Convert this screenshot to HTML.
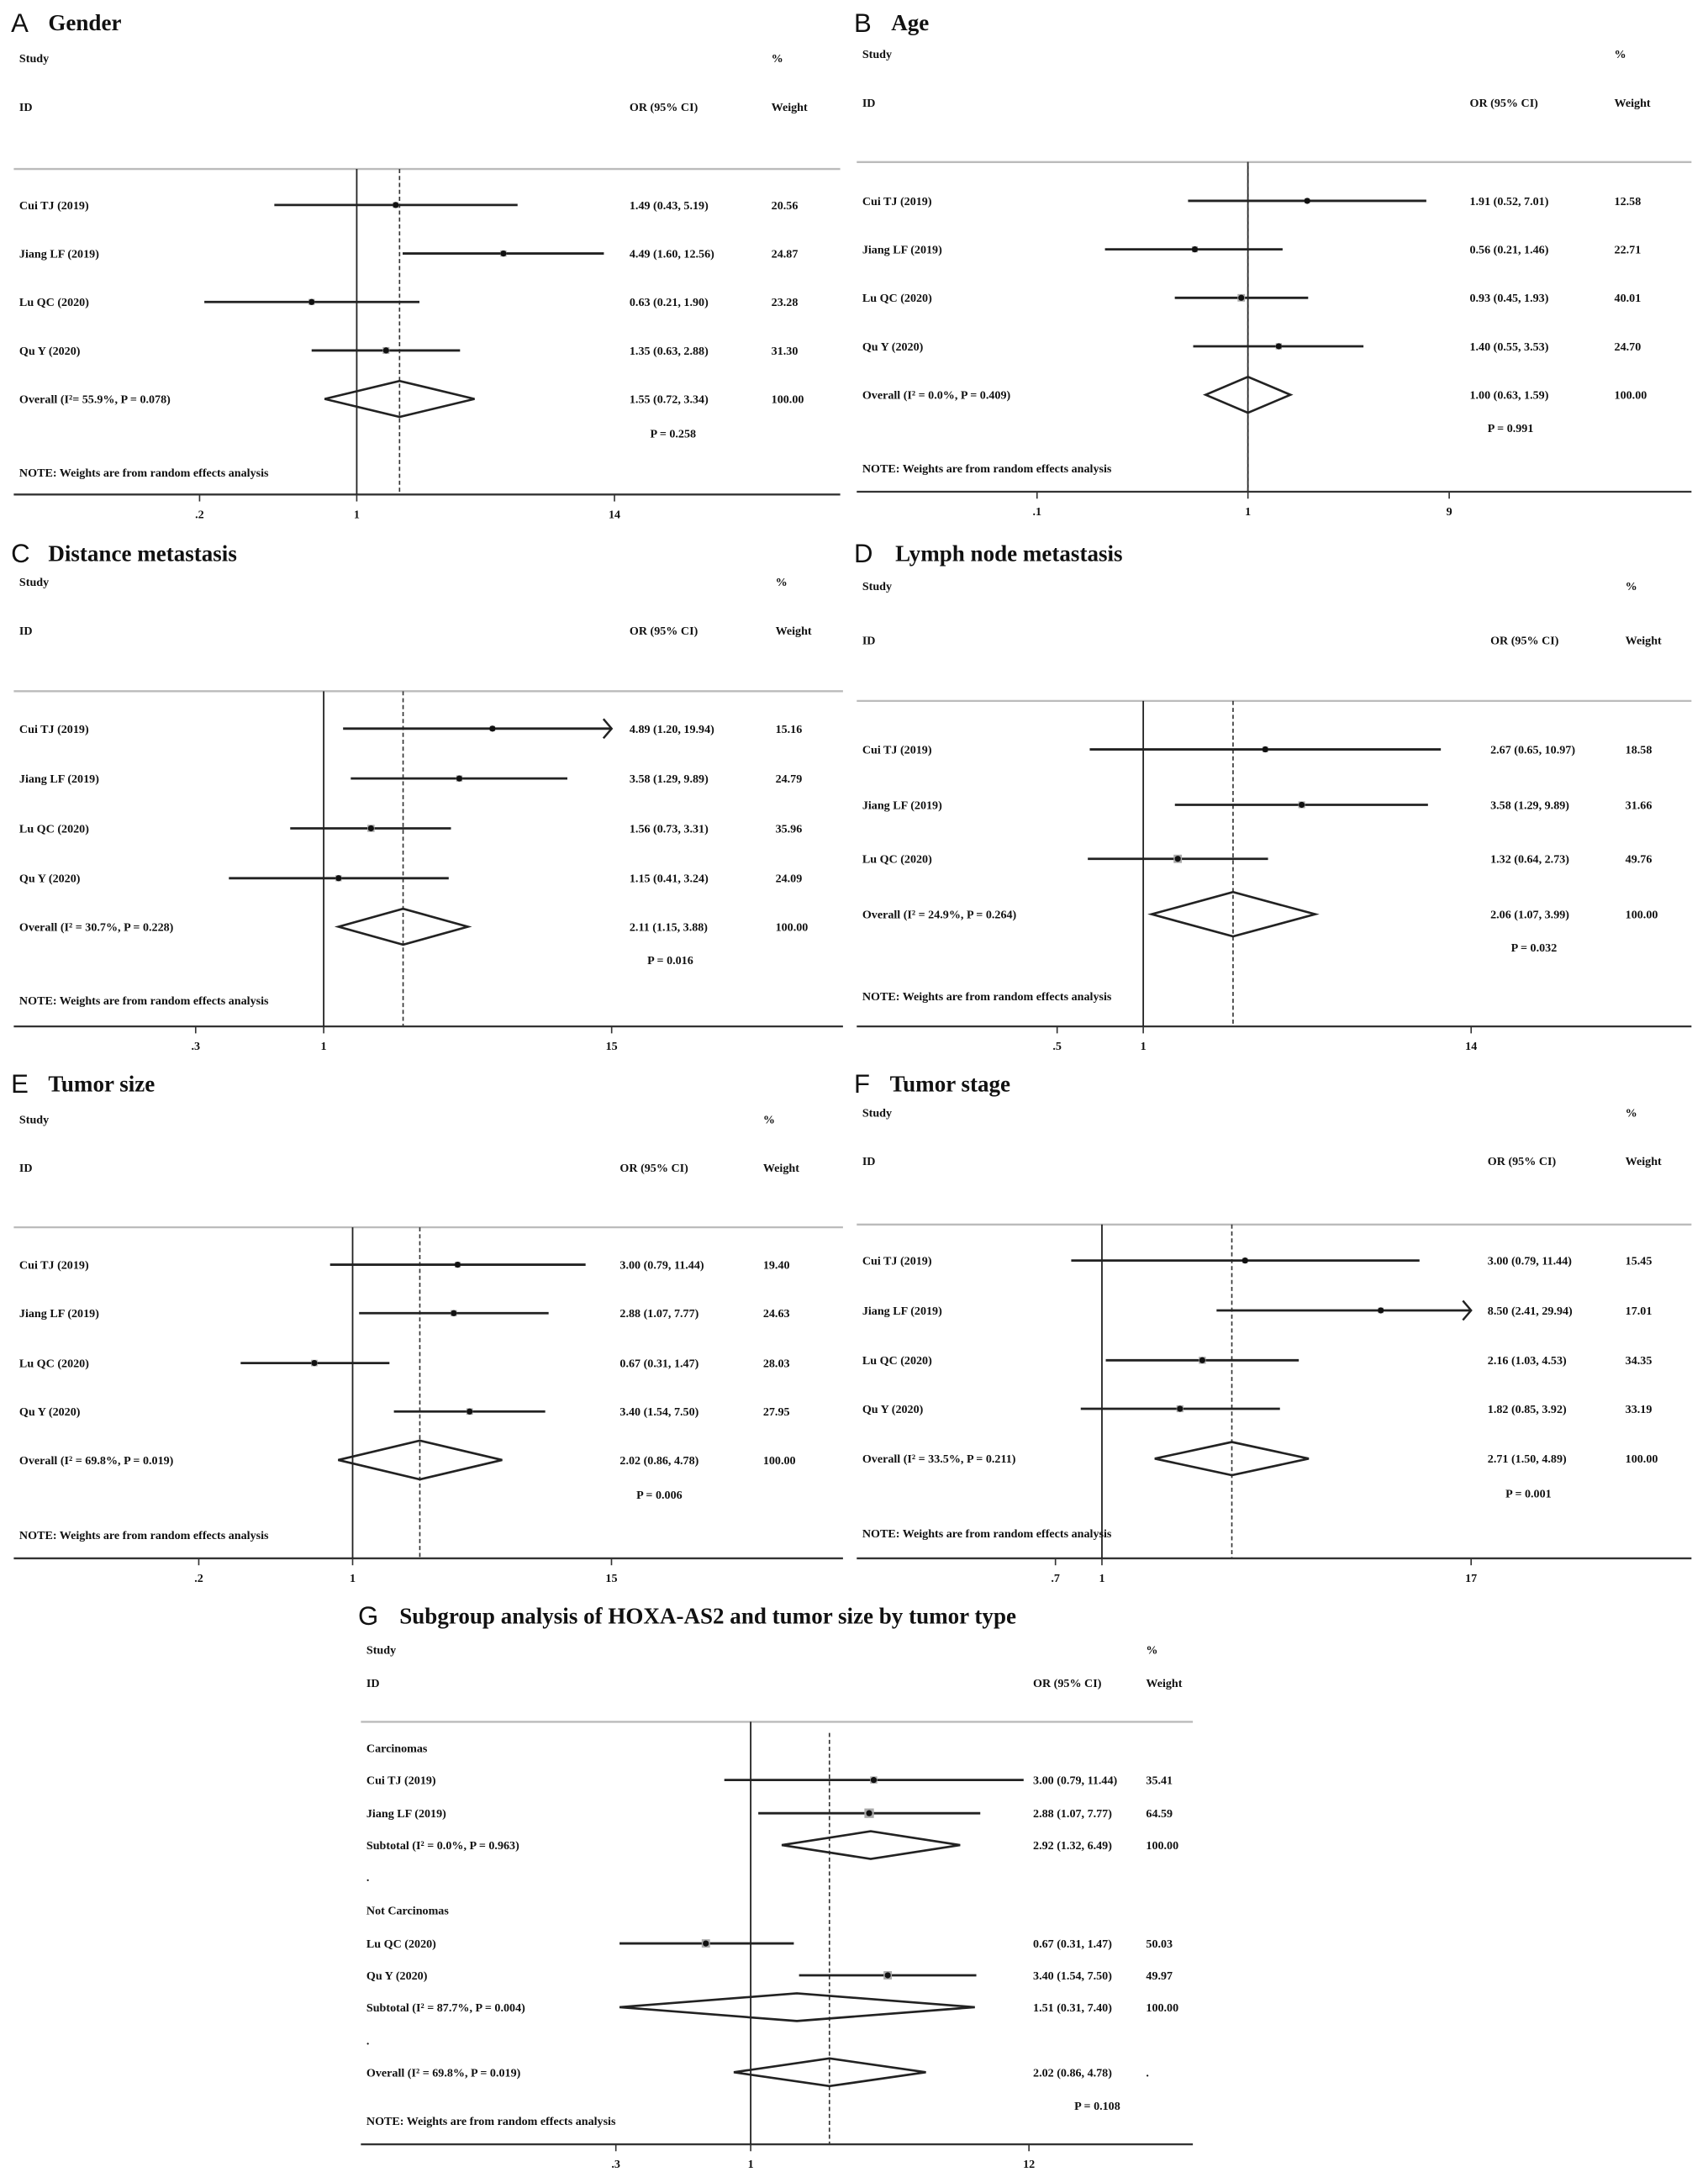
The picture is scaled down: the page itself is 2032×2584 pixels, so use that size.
<!DOCTYPE html>
<html><head><meta charset="utf-8"><style>
html,body{margin:0;padding:0;background:#fff;}
svg{display:block;}
text{font-family:"Liberation Serif",serif;font-weight:bold;font-size:8.6px;fill:#111;}
.lt{font-family:"Liberation Sans",sans-serif;font-weight:normal;font-size:19px;fill:#111;}
.tt{font-size:16.5px;fill:#111;}
</style></head><body>
<svg id="chart" width="2032" height="2584" viewBox="0 0 1240 1568" preserveAspectRatio="none" xmlns="http://www.w3.org/2000/svg"></svg>
<script>
// ---- Data (per panel) ----
const aStudies=["Cui TJ (2019)","Jiang LF (2019)","Lu QC (2020)","Qu Y (2020)"];
const aOR=[1.49,4.49,0.63,1.35]; const aLo=[0.43,1.60,0.21,0.63]; const aHi=[5.19,12.56,1.90,2.88];
const aW=["20.56","24.87","23.28","31.30"]; const aOverall=[1.55,0.72,3.34]; const aHet="Overall  (I²= 55.9%, P = 0.078)"; const aP="P = 0.258";
const aTicks=[0.2,1,14]; const aTickLabels=[".2","1","14"];

const bStudies=["Cui TJ (2019)","Jiang LF (2019)","Lu QC (2020)","Qu Y (2020)"];
const bOR=[1.91,0.56,0.93,1.40]; const bLo=[0.52,0.21,0.45,0.55]; const bHi=[7.01,1.46,1.93,3.53];
const bW=["12.58","22.71","40.01","24.70"]; const bOverall=[1.00,0.63,1.59]; const bHet="Overall  (I² = 0.0%, P = 0.409)"; const bP="P = 0.991";
const bTicks=[0.1,1,9]; const bTickLabels=[".1","1","9"];

const cStudies=["Cui TJ (2019)","Jiang LF (2019)","Lu QC (2020)","Qu Y (2020)"];
const cOR=[4.89,3.58,1.56,1.15]; const cLo=[1.20,1.29,0.73,0.41]; const cHi=[19.94,9.89,3.31,3.24];
const cW=["15.16","24.79","35.96","24.09"]; const cOverall=[2.11,1.15,3.88]; const cHet="Overall  (I² = 30.7%, P = 0.228)"; const cP="P = 0.016";
const cTicks=[0.3,1,15]; const cTickLabels=[".3","1","15"];

const dStudies=["Cui TJ (2019)","Jiang LF (2019)","Lu QC (2020)"];
const dOR=[2.67,3.58,1.32]; const dLo=[0.65,1.29,0.64]; const dHi=[10.97,9.89,2.73];
const dW=["18.58","31.66","49.76"]; const dOverall=[2.06,1.07,3.99]; const dHet="Overall  (I² = 24.9%, P = 0.264)"; const dP="P = 0.032";
const dTicks=[0.5,1,14]; const dTickLabels=[".5","1","14"];

const eStudies=["Cui TJ (2019)","Jiang LF (2019)","Lu QC (2020)","Qu Y (2020)"];
const eOR=[3.00,2.88,0.67,3.40]; const eLo=[0.79,1.07,0.31,1.54]; const eHi=[11.44,7.77,1.47,7.50];
const eW=["19.40","24.63","28.03","27.95"]; const eOverall=[2.02,0.86,4.78]; const eHet="Overall  (I² = 69.8%, P = 0.019)"; const eP="P = 0.006";
const eTicks=[0.2,1,15]; const eTickLabels=[".2","1","15"];

const fStudies=["Cui TJ (2019)","Jiang LF (2019)","Lu QC (2020)","Qu Y (2020)"];
const fOR=[3.00,8.50,2.16,1.82]; const fLo=[0.79,2.41,1.03,0.85]; const fHi=[11.44,29.94,4.53,3.92];
const fW=["15.45","17.01","34.35","33.19"]; const fOverall=[2.71,1.50,4.89]; const fHet="Overall  (I² = 33.5%, P = 0.211)"; const fP="P = 0.001";
const fTicks=[0.7,1,17]; const fTickLabels=[".7","1","17"];

const gLabels=["Carcinomas","Cui TJ (2019)","Jiang LF (2019)","Subtotal  (I² = 0.0%, P = 0.963)",".","Not Carcinomas","Lu QC (2020)","Qu Y (2020)","Subtotal  (I² = 87.7%, P = 0.004)",".","Overall  (I² = 69.8%, P = 0.019)"];
const gKinds=["head","study","study","dia","head","head","study","study","dia","head","dia"];
const gOR=[0,3.00,2.88,2.92,0,0,0.67,3.40,1.51,0,2.02];
const gLo=[0,0.79,1.07,1.32,0,0,0.31,1.54,0.31,0,0.86];
const gHi=[0,11.44,7.77,6.49,0,0,1.47,7.50,7.40,0,4.78];
const gW=["","35.41","64.59","100.00","","","50.03","49.97","100.00","","."];
const gP="P = 0.108";
const gTicks=[0.3,1,12]; const gTickLabels=[".3","1","12"];

const svg=document.getElementById('chart');
const NS="http://www.w3.org/2000/svg";
function mk(tag,attrs,txt){const e=document.createElementNS(NS,tag);for(const k in attrs)e.setAttribute(k,attrs[k]);if(txt!==undefined)e.textContent=txt;svg.appendChild(e);return e;}
function fmt(o,l,h){return o.toFixed(2)+" ("+l.toFixed(2)+", "+h.toFixed(2)+")";}

function panel(P){
  const X=v=>P.one+P.k*Math.log(v);
  const xmin=X(P.ticks[0])-P.k*0.9, xmax=X(P.ticks[2]);
  let e;
  e=mk('text',{x:P.x0-2,y:P.ty+7,class:'lt'},P.letter);
  
  
  e=mk('text',{x:P.tx,y:P.ty+6,class:'tt'},P.title);
  
  
  e=mk('text',{x:P.x0+4,y:P.sy+3},"Study");
  
  
  e=mk('text',{x:P.pctX,y:P.sy+3},"%");
  
  
  e=mk('text',{x:P.x0+4,y:P.iy+3},"ID");
  
  
  e=mk('text',{x:P.orX,y:P.iy+3},"OR (95% CI)");
  
  
  e=mk('text',{x:P.wX,y:P.iy+3},"Weight");
  
  
  e=mk('line',{x1:P.x0,x2:P.x1,y1:P.ry,y2:P.ry,stroke:'#bbb','stroke-width':1.4});
  
  
  e=mk('line',{x1:P.x0,x2:P.x1,y1:P.ay,y2:P.ay,stroke:'#333','stroke-width':1.4});
  
  
  e=mk('line',{x1:X(1),x2:X(1),y1:P.ry,y2:P.ay,stroke:'#222','stroke-width':1.1});
  
  
  e=mk('line',{x1:X(P.ov),x2:X(P.ov),y1:P.ry+P.dashOff,y2:P.ay,stroke:'#333','stroke-width':1,'stroke-dasharray':'3,2'});
  
  
  P.ticks.forEach((t,i)=>{
    let l=mk('line',{x1:X(t),x2:X(t),y1:P.ay,y2:P.ay+5,stroke:'#333','stroke-width':1});
    
    
    let tx=mk('text',{x:X(t),y:P.ay+17,'text-anchor':'middle'},P.tickLabels[i]);
    
    
  });
  P.rows.forEach((r,i)=>{
    const y=P.rowY[i];
    let t=mk('text',{x:P.x0+4,y:y+3},r.label);
    
    
    if(r.kind==='head')return;
    if(r.kind==='study'){
      const hi=Math.min(X(r.hi),xmax), lo=Math.max(X(r.lo),xmin);
      let l=mk('line',{x1:lo,x2:hi,y1:y,y2:y,stroke:'#222','stroke-width':1.7});
      
      
      if(X(r.hi)>xmax){
        let a=mk('polyline',{points:(xmax-6)+','+(y-7)+' '+xmax+','+y+' '+(xmax-6)+','+(y+7),fill:'none',stroke:'#222','stroke-width':1.5});
        
        
      }
      const s=3+parseFloat(r.w)*0.06;
      let sq=mk('rect',{x:X(r.or)-s/2,y:y-s/2,width:s,height:s,fill:'#aaa'});
      
      
      let d=mk('circle',{cx:X(r.or),cy:y,r:2.2,fill:'#111'});
      
      
    } else {
      const h=P.dh;
      let dm=mk('polygon',{points:X(r.lo)+','+y+' '+X(r.or)+','+(y-h)+' '+X(r.hi)+','+y+' '+X(r.or)+','+(y+h),fill:'none',stroke:'#222','stroke-width':1.6});
      
      
    }
    let v=mk('text',{x:P.orX,y:y+3},fmt(r.or,r.lo,r.hi));
    
    
    let w=mk('text',{x:P.wX,y:y+3},r.w);
    
    
  });
  e=mk('text',{x:P.px,y:P.py+3},P.pText);
  
  
  e=mk('text',{x:P.x0+4,y:P.ny+3},"NOTE: Weights are from random effects analysis");
  
  
}
function rowsFrom(st,or,lo,hi,w,ov,het){
  const r=st.map((s,i)=>({kind:'study',label:s,or:or[i],lo:lo[i],hi:hi[i],w:w[i]}));
  r.push({kind:'dia',label:het,or:ov[0],lo:ov[1],hi:ov[2],w:"100.00"});
  return r;
}
panel({letter:"A",title:"Gender",x0:10,x1:610,tx:35,ty:16,sy:42,iy:77,ry:122,ay:357,one:259,k:70.9,ticks:aTicks,tickLabels:aTickLabels,ov:aOverall[0],dashOff:0,
  orX:457,wX:560,pctX:560,rows:rowsFrom(aStudies,aOR,aLo,aHi,aW,aOverall,aHet),rowY:[148,183,218,253,288],dh:13,px:472,py:313,pText:aP,ny:341});
panel({letter:"B",title:"Age",x0:622,x1:1228,tx:647,ty:16,sy:39,iy:74,ry:117,ay:355,one:906,k:66.5,ticks:bTicks,tickLabels:bTickLabels,ov:bOverall[0],dashOff:0,
  orX:1067,wX:1172,pctX:1172,rows:rowsFrom(bStudies,bOR,bLo,bHi,bW,bOverall,bHet),rowY:[145,180,215,250,285],dh:13,px:1080,py:309,pText:bP,ny:338});
panel({letter:"C",title:"Distance metastasis",x0:10,x1:612,tx:35,ty:399,sy:420,iy:455,ry:499,ay:741,one:235,k:77.2,ticks:cTicks,tickLabels:cTickLabels,ov:cOverall[0],dashOff:0,
  orX:457,wX:563,pctX:563,rows:rowsFrom(cStudies,cOR,cLo,cHi,cW,cOverall,cHet),rowY:[526,562,598,634,669],dh:13,px:470,py:693,pText:cP,ny:722});
panel({letter:"D",title:"Lymph node metastasis",x0:622,x1:1228,tx:650,ty:399,sy:423,iy:462,ry:506,ay:741,one:830,k:90.2,ticks:dTicks,tickLabels:dTickLabels,ov:dOverall[0],dashOff:0,
  orX:1082,wX:1180,pctX:1180,rows:rowsFrom(dStudies,dOR,dLo,dHi,dW,dOverall,dHet),rowY:[541,581,620,660],dh:16,px:1097,py:684,pText:dP,ny:719});
panel({letter:"E",title:"Tumor size",x0:10,x1:612,tx:35,ty:782,sy:808,iy:843,ry:886,ay:1125,one:256,k:69.4,ticks:eTicks,tickLabels:eTickLabels,ov:eOverall[0],dashOff:0,
  orX:450,wX:554,pctX:554,rows:rowsFrom(eStudies,eOR,eLo,eHi,eW,eOverall,eHet),rowY:[913,948,984,1019,1054],dh:14,px:462,py:1079,pText:eP,ny:1108});
panel({letter:"F",title:"Tumor stage",x0:622,x1:1228,tx:646,ty:782,sy:803,iy:838,ry:884,ay:1125,one:800,k:94.6,ticks:fTicks,tickLabels:fTickLabels,ov:fOverall[0],dashOff:0,
  orX:1080,wX:1180,pctX:1180,rows:rowsFrom(fStudies,fOR,fLo,fHi,fW,fOverall,fHet),rowY:[910,946,982,1017,1053],dh:12,px:1093,py:1078,pText:fP,ny:1107});
const gRows=gLabels.map((l,i)=>({kind:gKinds[i],label:l,or:gOR[i],lo:gLo[i],hi:gHi[i],w:gW[i]}));
panel({letter:"G",title:"Subgroup analysis of HOXA-AS2 and tumor size by tumor type",x0:262,x1:866,tx:290,ty:1166,sy:1191,iy:1215,ry:1243,ay:1548,one:545,k:81.3,ticks:gTicks,tickLabels:gTickLabels,ov:gOR[10],dashOff:8,
  orX:750,wX:832,pctX:832,rows:gRows,rowY:[1262,1285,1309,1332,1355,1379,1403,1426,1449,1473,1496],dh:10,px:780,py:1520,pText:gP,ny:1531});
</script>
</body></html>
